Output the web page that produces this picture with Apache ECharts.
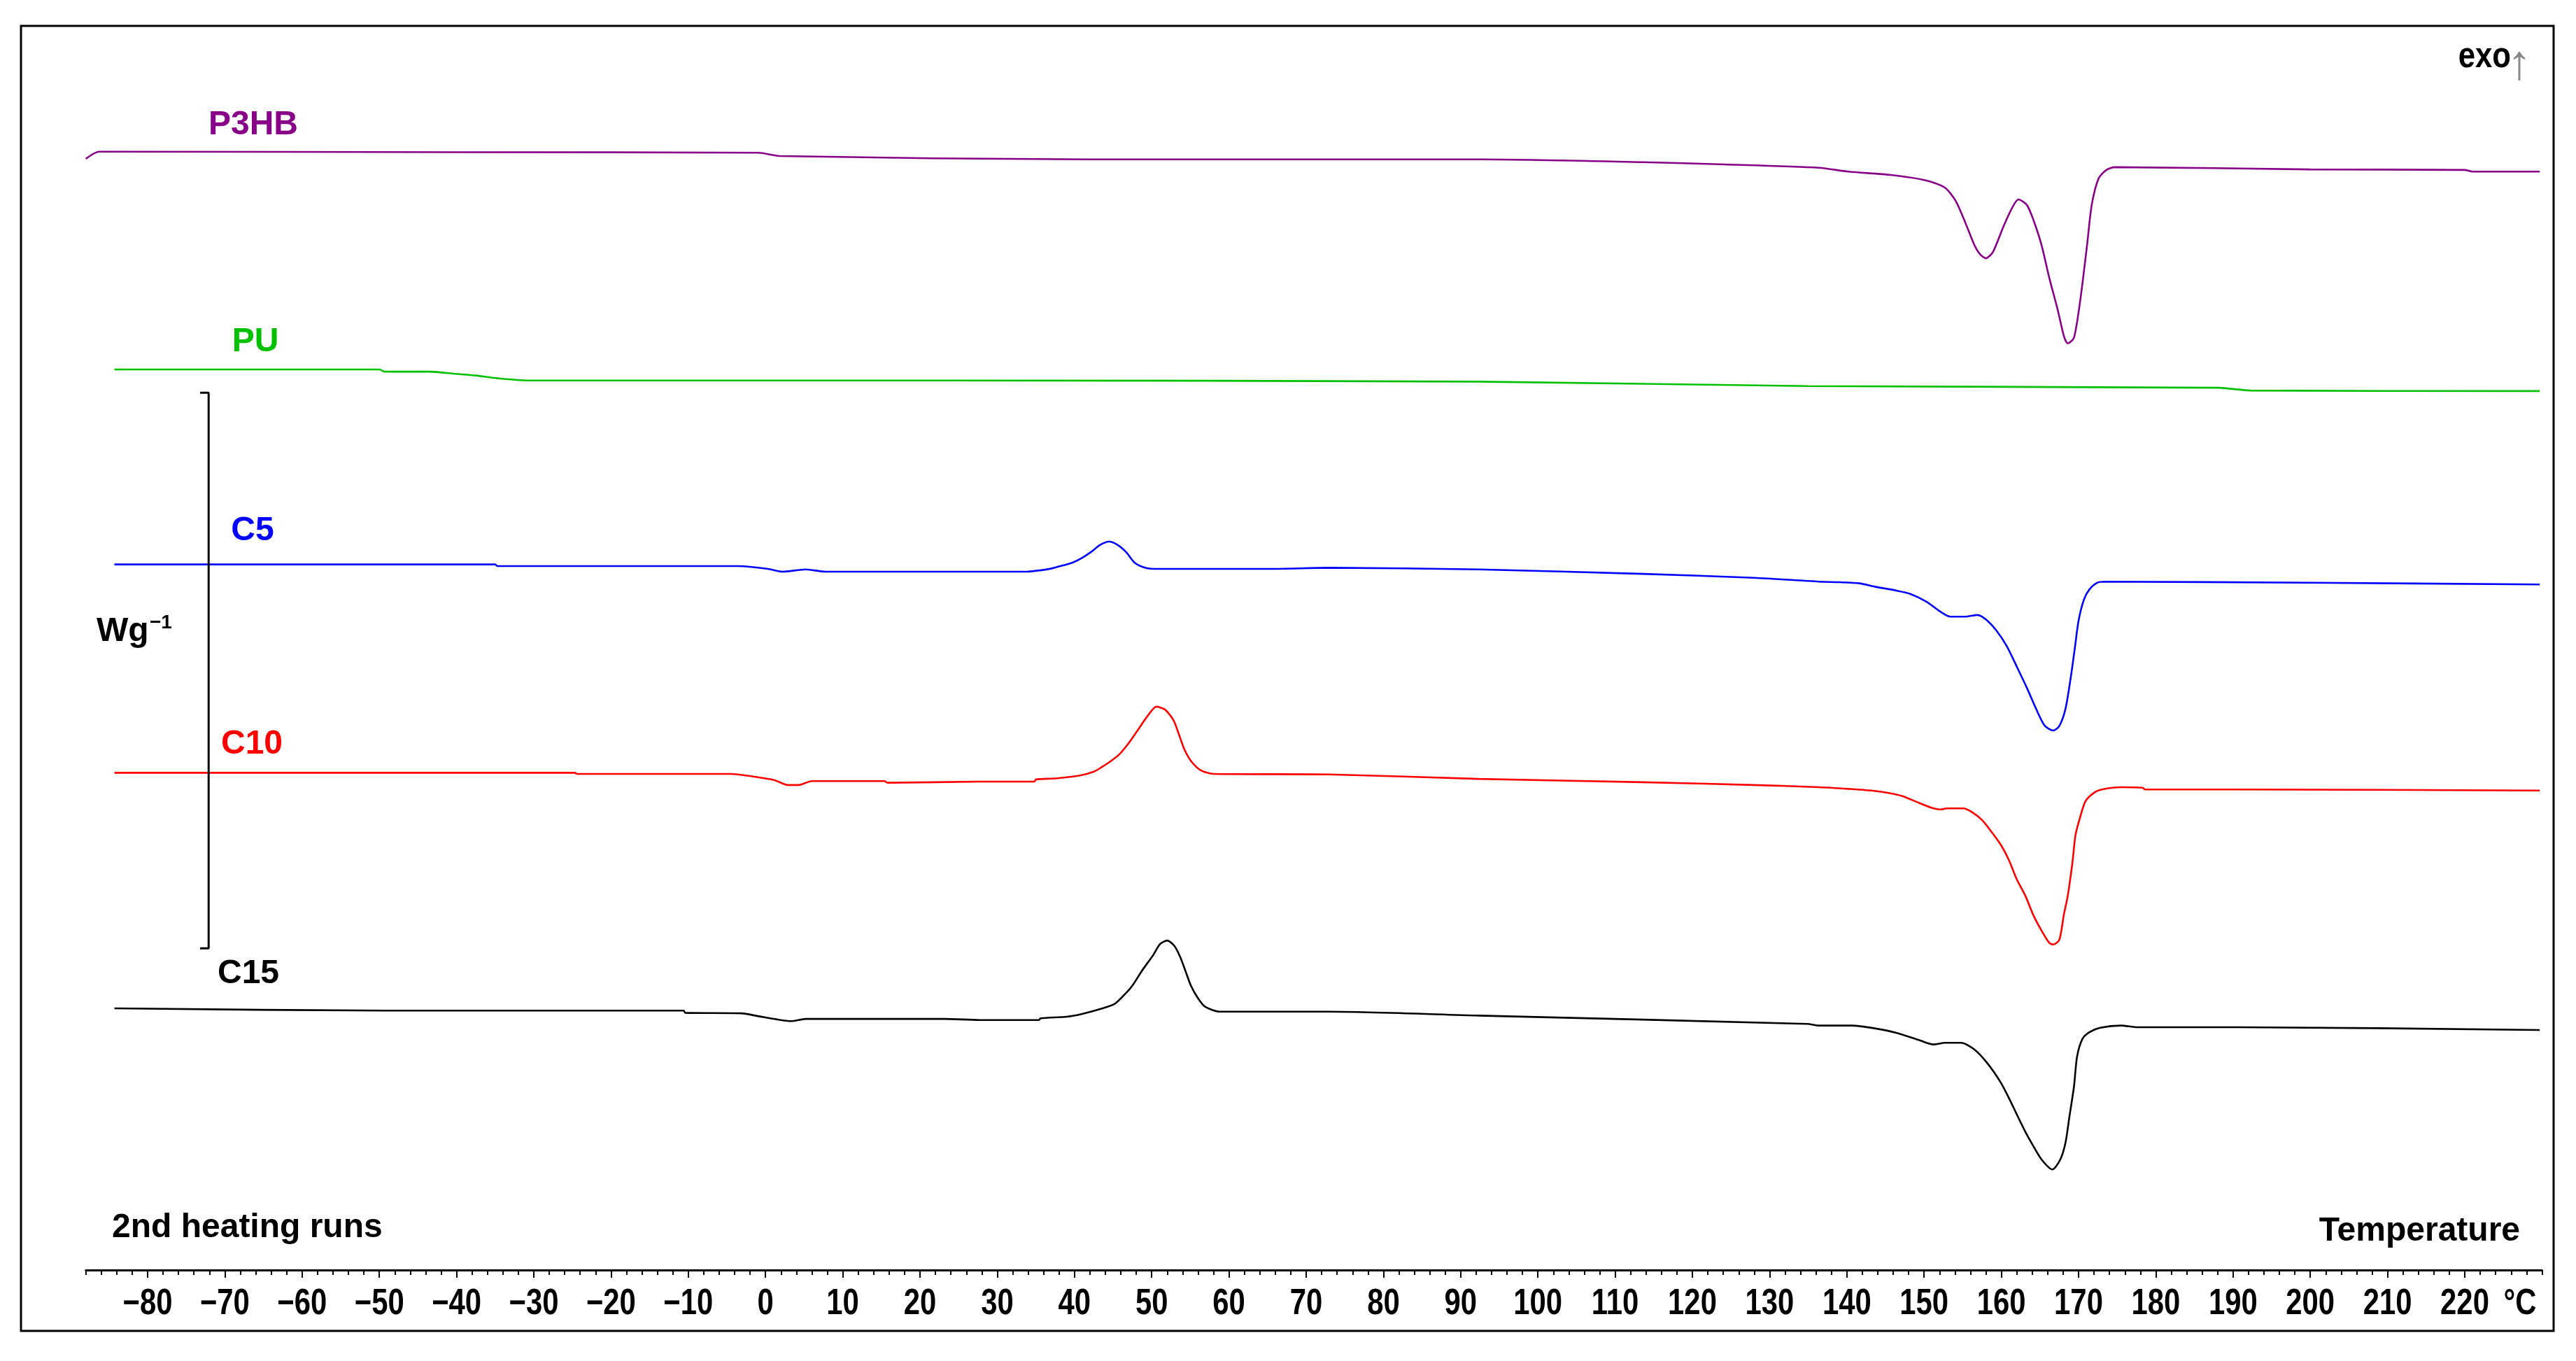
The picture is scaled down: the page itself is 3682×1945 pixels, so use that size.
<!DOCTYPE html>
<html><head><meta charset="utf-8">
<script src="https://cdn.jsdelivr.net/npm/echarts@6/dist/echarts.min.js"></script>
<style>html,body{margin:0;padding:0;background:#fff}#c{width:3682px;height:1945px}</style>
</head><body><div id="c"></div>
<script>
// DSC 2nd heating runs: temperature (°C) vs heat flow (W/g, curves offset), exo up
const seriesNames = ['P3HB', 'PU', 'C5', 'C10', 'C15'];
const p3hb = [[-88.0,2.000],[-86.3,2.013],[-40,2.012],[-1.0,2.011],[2.0,2.005],[41.3,1.999],[92.3,1.999],[113.6,1.994],[124.2,1.990],[136.4,1.984],[140.2,1.977],[145.7,1.971],[150.3,1.961],[152.7,1.948],[154.1,1.924],[155.4,1.883],[156.5,1.845],[157.2,1.829],[158.0,1.821],[158.9,1.832],[160.3,1.879],[161.4,1.912],[162.2,1.927],[163.3,1.917],[164.1,1.892],[165.2,1.845],[166.2,1.786],[167.3,1.728],[168.1,1.681],[168.6,1.668],[169.4,1.678],[170.2,1.744],[171.1,1.845],[171.7,1.917],[172.6,1.965],[173.6,1.980],[174.7,1.985],[200.0,1.981],[220.0,1.980],[221.0,1.977],[229.7,1.977]];
const pu = [[-84.3,1.621],[-50.0,1.621],[-49.3,1.617],[-43.5,1.617],[-40.1,1.613],[-37.5,1.610],[-34.7,1.605],[-30.8,1.601],[23.2,1.601],[92.3,1.599],[134.9,1.591],[188.1,1.588],[192.3,1.583],[229.7,1.582]];
const c5 = [[-84.3,1.270],[-35.0,1.270],[-34.7,1.267],[-3.5,1.267],[0.3,1.262],[2.2,1.257],[5.2,1.261],[7.8,1.257],[33.8,1.257],[36.8,1.262],[37.9,1.266],[39.7,1.273],[41.0,1.282],[42.2,1.293],[43.3,1.305],[44.5,1.311],[45.6,1.305],[46.7,1.292],[47.8,1.273],[49.2,1.264],[50.8,1.262],[65.3,1.262],[73.0,1.264],[92.3,1.261],[113.6,1.253],[128.0,1.246],[136.4,1.239],[139.0,1.238],[141.6,1.236],[143.6,1.230],[146.4,1.223],[148.2,1.217],[150.3,1.203],[152.0,1.186],[153.4,1.176],[155.3,1.176],[156.9,1.179],[158.0,1.171],[159.3,1.152],[160.7,1.123],[162.0,1.086],[163.3,1.048],[164.5,1.010],[165.6,0.980],[166.7,0.971],[167.5,0.979],[168.3,1.010],[169.0,1.068],[169.5,1.118],[170.0,1.169],[170.7,1.207],[171.4,1.225],[172.4,1.237],[173.4,1.239],[200.0,1.237],[229.7,1.234]];
const c10 = [[-84.3,0.895],[-24.7,0.895],[-24.4,0.893],[-4.5,0.893],[-1.5,0.888],[1.1,0.882],[2.9,0.873],[4.3,0.873],[6.0,0.880],[15.4,0.880],[15.8,0.877],[27.7,0.879],[34.8,0.879],[35.0,0.883],[37.7,0.885],[40.7,0.890],[42.5,0.897],[43.4,0.904],[44.7,0.916],[45.8,0.928],[47.0,0.948],[48.3,0.974],[49.4,0.996],[50.6,1.014],[51.7,1.009],[52.8,0.990],[53.5,0.965],[54.2,0.938],[55.1,0.916],[56.4,0.899],[58.0,0.893],[73.0,0.892],[92.3,0.884],[113.6,0.878],[128.0,0.873],[136.4,0.869],[140.2,0.866],[143.2,0.863],[145.3,0.859],[147.2,0.853],[149.3,0.841],[151.0,0.832],[152.2,0.829],[152.9,0.831],[155.1,0.831],[156.1,0.825],[157.5,0.810],[158.6,0.791],[159.9,0.766],[161.0,0.737],[162.0,0.703],[163.1,0.674],[164.1,0.640],[165.2,0.611],[166.2,0.589],[166.7,0.586],[167.5,0.594],[168.1,0.640],[168.6,0.674],[169.2,0.733],[169.6,0.783],[170.2,0.815],[170.9,0.844],[172.1,0.860],[173.0,0.865],[175.5,0.869],[178.3,0.868],[178.6,0.865],[190.7,0.865],[229.7,0.863]];
const c15 = [[-84.3,0.471],[-49.3,0.467],[-10.6,0.467],[-10.4,0.463],[-3.1,0.462],[-1.0,0.457],[1.5,0.451],[3.3,0.448],[5.2,0.452],[23.2,0.452],[27.7,0.450],[35.4,0.450],[35.6,0.453],[39.0,0.456],[41.0,0.461],[43.4,0.470],[45.2,0.479],[46.7,0.499],[47.6,0.514],[48.8,0.540],[50.1,0.565],[51.1,0.587],[52.0,0.593],[52.9,0.584],[53.7,0.563],[54.4,0.537],[55.1,0.511],[56.0,0.489],[56.9,0.474],[58.8,0.465],[73.0,0.465],[92.3,0.458],[134.9,0.443],[136.4,0.440],[140.6,0.440],[143.6,0.435],[146.4,0.427],[149.5,0.413],[151.2,0.406],[152.7,0.409],[154.8,0.409],[156.5,0.397],[158.2,0.372],[159.9,0.338],[161.0,0.309],[162.0,0.280],[163.1,0.249],[164.1,0.224],[165.2,0.199],[166.6,0.181],[167.6,0.198],[168.3,0.229],[168.8,0.275],[169.4,0.330],[169.8,0.384],[170.5,0.416],[171.4,0.428],[172.8,0.436],[175.5,0.440],[177.6,0.437],[190.7,0.437],[229.7,0.432]];
// 1 W/g scale bar
const scaleBar = [[-73.2,1.579],[-72.1,1.579],[-72.1,0.579],[-73.2,0.579]];
// x tick labels (°C)
const tickValues = [-80,-70,-60,-50,-40,-30,-20,-10,0,10,20,30,40,50,60,70,80,90,100,110,120,130,140,150,160,170,180,190,200,210,220];
const xMin = -88, xMax = 230, labelMin = -80, labelMax = 220;
const yMin = 0, yMax = 2.2;

const colors = ['#880088', '#00c000', '#0000ff', '#ff0000', '#000000'];
const allData = [p3hb, pu, c5, c10, c15];
const BOLD = "'Liberation Sans',Arial,sans-serif";

const chart = echarts.init(document.getElementById('c'), null, {renderer: 'canvas'});
const gridCommon = {top: 68.2, bottom: 130, containLabel: false, outerBoundsMode: 'none'};
const series = allData.map((d, i) => ({
  name: seriesNames[i], type: 'line', xAxisIndex: 0, yAxisIndex: 0, data: d,
  showSymbol: false, symbol: 'none', smooth: 0.25, silent: true,
  lineStyle: {color: colors[i], width: 2.6}, z: 3
}));
series.push({name: 'scale', type: 'line', data: scaleBar, showSymbol: false, symbol: 'none',
  silent: true, lineStyle: {color: '#000', width: 3}, z: 3});

chart.setOption({
  backgroundColor: '#fff',
  animation: false,
  grid: [
    Object.assign({left: 122.68, right: 48.56}, gridCommon),
    Object.assign({left: 211, right: 159}, gridCommon)
  ],
  xAxis: [
    {type: 'value', gridIndex: 0, min: xMin, max: xMax, interval: 2,
      axisLine: {show: true, onZero: false, lineStyle: {color: '#000', width: 3}},
      axisTick: {show: true, length: 7, lineStyle: {color: '#000', width: 2}},
      axisLabel: {show: false}, splitLine: {show: false}},
    {type: 'value', gridIndex: 1, min: labelMin, max: labelMax, interval: 10,
      axisLine: {show: false, onZero: false},
      axisTick: {show: true, length: 11, lineStyle: {color: '#000', width: 2}},
      axisLabel: {show: false}, splitLine: {show: false}}
  ],
  yAxis: [
    {type: 'value', gridIndex: 0, min: yMin, max: yMax, show: false, splitLine: {show: false}},
    {type: 'value', gridIndex: 1, min: yMin, max: yMax, show: false, splitLine: {show: false}}
  ],
  series: series
});

// condensed bold text (narrow face is not installed): bold face squeezed horizontally
function narrowText(text, x, y, size, sx, align) {
  return {type: 'text', x: x, y: y, scaleX: sx, scaleY: 1,
    style: {text: text, font: 'bold ' + size + 'px ' + BOLD, fill: '#000', align: align || 'center', verticalAlign: 'middle'}};
}
const fmt = v => v < 0 ? '\u2212' + Math.abs(v) : String(v);
const labelY = chart.convertToPixel({gridIndex: 1}, [0, 0])[1] + 49;

const labelPos = [[362, 179], [365, 489], [361, 759], [360, 1064], [355, 1392]];
const graphics = [
  {type: 'rect', shape: {x: 30, y: 37, width: 3620, height: 1865}, style: {fill: null, stroke: '#000', lineWidth: 3}, z: 0, silent: true},
  {type: 'text', x: 160, y: 1755, style: {text: '2nd heating runs', font: 'bold 48px ' + BOLD, fill: '#000', align: 'left', verticalAlign: 'middle'}},
  {type: 'text', x: 3602, y: 1760, style: {text: 'Temperature', font: 'bold 48px ' + BOLD, fill: '#000', align: 'right', verticalAlign: 'middle'}},
  narrowText('°C', 3602, labelY, 51, 0.82, 'center'),
  narrowText('exo', 3589, 82, 52, 0.84, 'right'),
  {type: 'text', x: 3601, y: 94, style: {text: '↑', font: '70px ' + BOLD, fill: '#888', align: 'center', verticalAlign: 'middle'}},
  {type: 'text', x: 138, y: 903, style: {text: 'Wg', font: 'bold 48px ' + BOLD, fill: '#000', align: 'left', verticalAlign: 'middle'}},
  {type: 'text', x: 214, y: 890, style: {text: '−1', font: 'bold 28px ' + BOLD, fill: '#000', align: 'left', verticalAlign: 'middle'}}
];
tickValues.forEach(v => {
  const px = chart.convertToPixel({xAxisIndex: 1}, v);
  graphics.push(narrowText(fmt(v), px, labelY, 51, 0.82, 'center'));
});
seriesNames.forEach((n, i) => {
  graphics.push({type: 'text', x: labelPos[i][0], y: labelPos[i][1],
    style: {text: n, font: 'bold 48px ' + BOLD, fill: colors[i], align: 'center', verticalAlign: 'middle'}});
});
chart.setOption({graphic: graphics});
</script></body></html>
